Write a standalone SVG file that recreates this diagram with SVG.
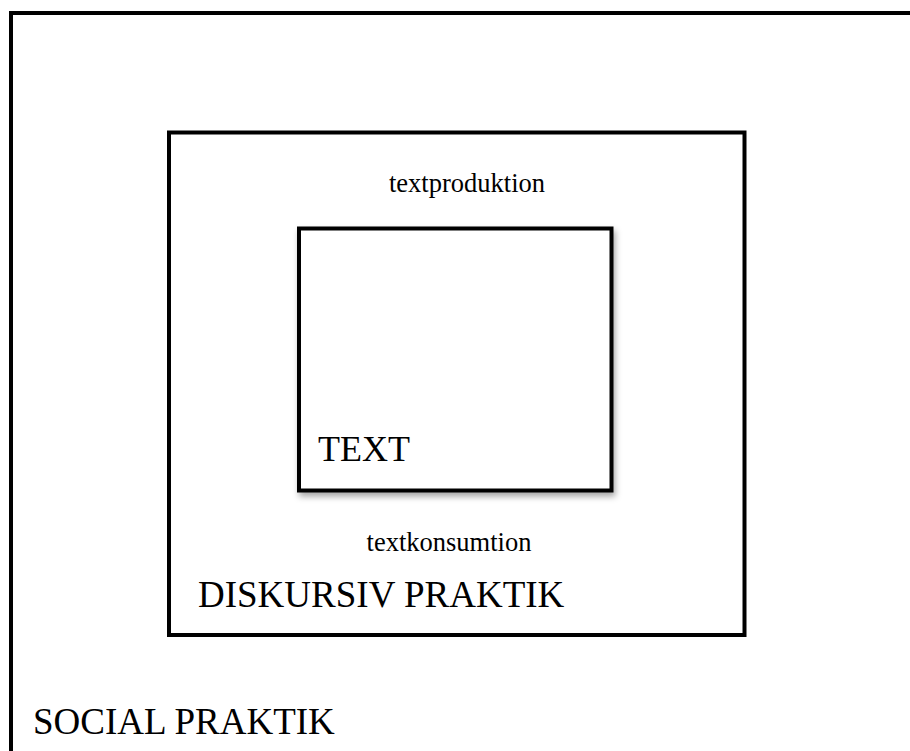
<svg xmlns="http://www.w3.org/2000/svg" width="910" height="751" viewBox="0 0 910 751">
<defs>
<style>
.box{fill:#fff;stroke:#000;stroke-width:4}
.t{font-family:"Liberation Serif","Times New Roman",serif;fill:#000}
</style>
<filter id="sh" x="-10%" y="-10%" width="130%" height="130%">
<feDropShadow dx="2" dy="4" stdDeviation="3" flood-color="#000" flood-opacity="0.35"/>
</filter>
</defs>
<rect width="910" height="751" fill="#fff"/>
<g id="social">
<rect class="box" x="11" y="13" width="920" height="760"/>
<text class="t" x="33" y="734" font-size="37">SOCIAL PRAKTIK</text>
</g>
<g id="diskursiv">
<rect class="box" x="169" y="132.5" width="575.5" height="502.5"/>
<text class="t" x="467" y="192" font-size="26.5" text-anchor="middle">textproduktion</text>
<text class="t" x="449" y="551" font-size="26.5" text-anchor="middle">textkonsumtion</text>
<text class="t" x="198" y="607" font-size="37">DISKURSIV PRAKTIK</text>
</g>
<g id="text">
<rect class="box" x="299" y="228.5" width="312.5" height="262" filter="url(#sh)"/>
<text class="t" x="318" y="461" font-size="36">TEXT</text>
</g>
<g id="connectors"/>
</svg>
